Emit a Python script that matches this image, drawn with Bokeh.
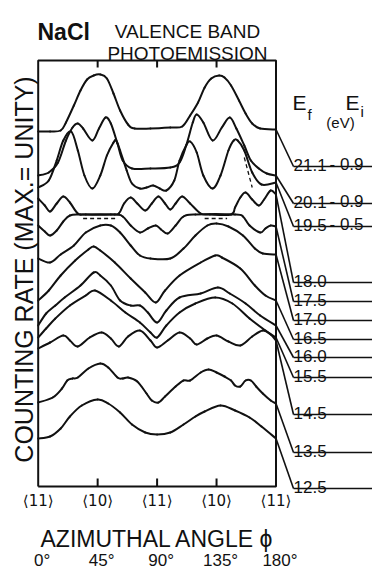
import numpy as np
from bokeh.plotting import figure
from bokeh.models import Range1d
from bokeh.core.properties import value
from bokeh.embed import file_html
from bokeh.resources import INLINE

# ---------------- data (azimuthal angle in degrees, counting rate incl. offset) -------------
phi_211 = [0, 9, 17, 21, 27, 32, 37, 42, 47, 52, 57, 62, 68, 73, 85, 100, 109, 115, 121, 126, 131, 137, 141, 146, 152, 157, 162, 168, 180]
rate_211 = [355, 355, 356, 364, 381, 396, 407, 411, 412, 408, 393, 376, 362, 358, 358, 359, 360, 371, 384, 399, 408, 411, 409, 401, 386, 373, 363, 358, 357]

phi_201 = [0, 8, 15, 21, 26, 30, 34, 41, 46, 51, 55, 60, 64, 71, 85, 100, 107, 112, 117, 120, 125, 132, 139, 145, 150, 156, 161, 167, 173, 180]
rate_201 = [311, 314, 324, 346, 359, 363, 358, 346, 358, 369, 363, 343, 326, 318, 318, 319, 324, 341, 364, 372, 364, 346, 359, 369, 358, 341, 326, 318, 313, 311]

phi_195 = [0, 8, 14, 19, 25, 30, 35, 41, 47, 52, 57, 59, 62, 67, 71, 77, 82, 87, 92, 97, 103, 107, 112, 115, 120, 125, 132, 138, 144, 148, 151, 156, 162, 169, 180]
rate_195 = [299, 306, 326, 346, 355, 336, 311, 298, 311, 331, 344, 346, 336, 316, 303, 298, 299, 301, 298, 296, 306, 326, 341, 345, 334, 311, 298, 311, 336, 346, 346, 336, 314, 302, 304]

phi_180 = [0, 5, 9, 14, 19, 24, 30, 36, 55, 61, 65, 70, 75, 81, 86, 91, 96, 100, 104, 109, 115, 123, 130, 146, 149, 153, 157, 162, 167, 171, 176, 180]
rate_180 = [288, 281, 275, 283, 290, 284, 273, 272, 272, 273, 283, 289, 283, 276, 283, 290, 283, 277, 283, 290, 283, 273, 272, 272, 279, 289, 294, 287, 281, 287, 296, 292]

phi_175 = [0, 5, 9, 14, 19, 24, 32, 58, 64, 70, 77, 83, 89, 93, 98, 104, 110, 119, 149, 155, 160, 168, 172, 176, 180]
rate_175 = [261, 255, 251, 256, 265, 271, 272, 272, 270, 261, 254, 258, 261, 257, 253, 261, 270, 272, 272, 270, 261, 254, 258, 261, 260]

phi_170 = [0, 9, 17, 27, 36, 47, 55, 62, 70, 77, 85, 100, 110, 119, 128, 135, 144, 155, 164, 170, 180]
rate_170 = [228, 224, 232, 241, 254, 261, 261, 254, 241, 231, 228, 228, 238, 251, 261, 263, 260, 251, 238, 233, 232]

phi_165 = [0, 8, 17, 28, 38, 42, 47, 58, 70, 81, 89, 96, 107, 123, 134, 139, 153, 164, 172, 180]
rate_165 = [186, 196, 211, 226, 237, 240, 236, 224, 208, 194, 184, 196, 211, 224, 231, 229, 218, 201, 191, 186]

phi_160 = [0, 6, 13, 20, 32, 42, 47, 55, 62, 70, 77, 83, 90, 97, 107, 123, 136, 145, 157, 168, 180]
rate_160 = [161, 173, 181, 189, 201, 214, 211, 201, 186, 181, 181, 174, 164, 176, 189, 193, 199, 193, 183, 171, 161]

phi_155 = [0, 6, 13, 24, 36, 43, 55, 66, 77, 85, 90, 97, 107, 119, 134, 147, 160, 172, 180]
rate_155 = [149, 158, 168, 181, 191, 196, 186, 174, 164, 154, 149, 161, 174, 183, 189, 183, 168, 156, 149]

phi_145 = [0, 9, 19, 24, 30, 39, 48, 55, 61, 68, 77, 85, 90, 98, 107, 115, 120, 128, 135, 144, 153, 162, 170, 176, 180]
rate_145 = [138, 144, 151, 146, 140, 149, 154, 148, 140, 150, 156, 146, 139, 146, 154, 148, 142, 148, 151, 145, 141, 150, 156, 152, 146]

phi_135 = [0, 11, 18, 22, 26, 30, 38, 47, 53, 60, 64, 68, 75, 82, 86, 91, 96, 104, 110, 115, 123, 129, 135, 141, 146, 149, 153, 157, 161, 165, 170, 176, 180]
rate_135 = [84, 89, 98, 106, 108, 109, 118, 123, 119, 109, 108, 109, 105, 93, 86, 84, 90, 100, 106, 106, 114, 117, 114, 110, 106, 101, 100, 106, 106, 100, 93, 86, 83]

phi_125 = [0, 9, 17, 24, 33, 45, 53, 62, 71, 81, 90, 100, 110, 119, 126, 138, 149, 160, 169, 180]
rate_125 = [48, 50, 58, 70, 81, 87, 83, 74, 62, 54, 52, 54, 62, 70, 75, 81, 76, 69, 60, 48]

# dashed alternative traces
dash1_phi = [34, 60]
dash1_rate = [268, 268]
dash2_phi = [126, 143]
dash2_rate = [268, 268]
dash3_phi = [156, 162]
dash3_rate = [329, 299]

ef_labels = ["21.1", "20.1", "19.5", "18.0", "17.5", "17.0", "16.5", "16.0", "15.5", "14.5", "13.5", "12.5"]
ei_labels = ["- 0.9", "- 0.9", "- 0.5", "", "", "", "", "", "", "", "", ""]

sym_ticks = [0, 45, 90, 135, 180]
sym_labels = ["\u27e811\u27e9", "\u27e810\u27e9", "\u27e811\u27e9", "\u27e810\u27e9", "\u27e811\u27e9"]
deg_labels = ["0\u00b0", "45\u00b0", "90\u00b0", "135\u00b0", "180\u00b0"]
inner_ticks = [45, 90, 135]

curves = [
    (phi_211, rate_211), (phi_201, rate_201), (phi_195, rate_195), (phi_180, rate_180),
    (phi_175, rate_175), (phi_170, rate_170), (phi_165, rate_165), (phi_160, rate_160),
    (phi_155, rate_155), (phi_145, rate_145), (phi_135, rate_135), (phi_125, rate_125),
]

# ---------------- layout (page pixels) ----------------
X0, X1 = 37.7, 275.5      # frame left / right
YB, YT = 486.0, 60.0      # frame bottom / top
def dx(px):
    return (px - X0) * 180.0 / (X1 - X0)
def dy(py):
    return YB - py

label_rows_px = [166, 203, 226, 282, 301, 320, 339, 357, 377, 414, 452, 488]

p = figure(width=372, height=569, output_backend="svg", toolbar_location=None,
           x_range=Range1d(dx(0), dx(372)), y_range=Range1d(dy(569), dy(0)),
           x_axis_location=None, y_axis_location=None, min_border=0,
           outline_line_color=None, background_fill_color="white",
           border_fill_color="white")
p.grid.visible = False

INK = "#111111"
FONT = value("Liberation Sans")

# frame
top = dy(YT)
p.line([0, 0, 180, 180, 0], [0, top, top, 0, 0], line_color=INK, line_width=2)
# inward ticks
p.segment(x0=inner_ticks, y0=[top] * 3, x1=inner_ticks, y1=[top - 7] * 3, line_color=INK, line_width=2)
p.segment(x0=inner_ticks, y0=[0] * 3, x1=inner_ticks, y1=[8] * 3, line_color=INK, line_width=2)

# smooth curves through the read points (Catmull-Rom as cubic Bezier)
def draw_smooth(xs, ys, **kw):
    x = np.asarray(xs, float)
    y = np.asarray(ys, float)
    n = len(x) - 1
    xp = np.concatenate([[x[0]], x, [x[-1]]])
    yp = np.concatenate([[y[0]], y, [y[-1]]])
    cx0 = x[:-1] + (xp[2:n + 2] - xp[0:n]) / 6
    cy0 = y[:-1] + (yp[2:n + 2] - yp[0:n]) / 6
    cx1 = x[1:] - (xp[3:n + 3] - xp[1:n + 1]) / 6
    cy1 = y[1:] - (yp[3:n + 3] - yp[1:n + 1]) / 6
    p.bezier(x0=x[:-1], y0=y[:-1], x1=x[1:], y1=y[1:], cx0=cx0, cy0=cy0, cx1=cx1, cy1=cy1,
             line_cap="round", **kw)

for xs, ys in curves:
    draw_smooth(xs, ys, line_color=INK, line_width=2)

for xs, ys in [(dash1_phi, dash1_rate), (dash2_phi, dash2_rate), (dash3_phi, dash3_rate)]:
    p.line(xs, ys, line_color=INK, line_width=1.3, line_dash="4 3")

# leaders and underlines
lx = dx(293)
rx = dx(372)
end_rates = [c[1][-1] for c in curves]
row_h = [dy(v) for v in label_rows_px]
p.segment(x0=[180] * 12, y0=end_rates, x1=[lx] * 12, y1=row_h, line_color=INK, line_width=1.6)
p.segment(x0=[lx] * 12, y0=row_h, x1=[rx] * 12, y1=row_h, line_color=INK, line_width=1.6)

p.text(x=[lx] * 12, y=[h + 2 for h in row_h], text=ef_labels, text_font=FONT,
       text_font_size="17px", text_align="left", text_baseline="alphabetic", text_color=INK)
p.text(x=[dx(329)] * 12, y=[h + 2 for h in row_h], text=ei_labels, text_font=FONT,
       text_font_size="17px", text_align="left", text_baseline="alphabetic", text_color=INK)

# Ef / Ei header
p.text(x=[dx(292), dx(345)], y=[dy(102), dy(102)], text=["E", "E"], text_font=FONT,
       text_font_size="21px", text_baseline="alphabetic", text_color=INK)
p.text(x=[dx(307), dx(360)], y=[dy(114), dy(111)], text=["f", "i"], text_font=FONT,
       text_font_size="15px", text_baseline="alphabetic", text_color=INK)
p.text(x=[dx(340)], y=[dy(122)], text=["(eV)"], text_font=FONT,
       text_font_size="15px", text_align="center", text_baseline="alphabetic", text_color=INK)

# title
p.text(x=[dx(37)], y=[dy(31)], text=["NaCl"], text_font=FONT, text_font_style="bold",
       text_font_size="23px", text_baseline="alphabetic", text_color=INK)
p.text(x=[dx(187), dx(187)], y=[dy(31), dy(53)], text=["VALENCE BAND", "PHOTOEMISSION"],
       text_font=FONT, text_font_size="19px", text_align="center", text_baseline="alphabetic",
       text_color=INK)

# y label
p.text(x=[dx(23)], y=[dy(269)], text=["COUNTING RATE (MAX.= UNITY)"], angle=np.pi / 2,
       text_font=FONT, text_font_size="25px", text_align="center", text_baseline="middle",
       text_color=INK)

# bottom labels
p.text(x=sym_ticks, y=[dy(500)] * 5, text=sym_labels, text_font=value("DejaVu Sans"),
       text_font_size="15px", text_align="center", text_baseline="middle", text_color=INK)
p.text(x=[dx(40)], y=[dy(538)], text=["AZIMUTHAL ANGLE  \u03d5"], text_font=FONT,
       text_font_size="23px", text_align="left", text_baseline="alphabetic", text_color=INK)
p.text(x=sym_ticks, y=[dy(560)] * 5, text=deg_labels, x_offset=4, text_font=FONT,
       text_font_size="17px", text_align="center", text_baseline="middle", text_color=INK)

open("out.html", "w").write(file_html(p, INLINE))
